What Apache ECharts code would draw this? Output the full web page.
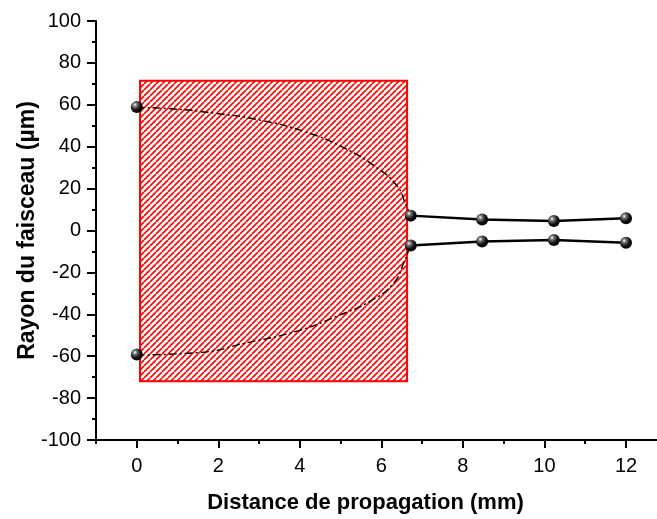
<!DOCTYPE html>
<html><head><meta charset="utf-8">
<script src="https://cdn.jsdelivr.net/npm/echarts@6/dist/echarts.min.js"></script>
<style>html,body{margin:0;padding:0;background:#fff}#c{width:657px;height:519px}</style>
</head><body><div id="c"></div>
<script>
// Measured data points
var upperPts = [[0, 59.0], [6.72, 7.1], [8.47, 5.2], [10.23, 4.5], [12.0, 5.8]];
var lowerPts = [[0, -59.2], [6.72, -7.2], [8.47, -5.2], [10.23, -4.5], [12.0, -5.9]];
// dash-dot guide curves inside the hatched region
var upperCurve = [[0, 58.7], [0.85, 58.1], [1.9, 56.0], [2.97, 52.9], [4.1, 47.3], [5.09, 39.4], [5.9, 29.8], [6.39, 21.1], [6.6, 12.4], [6.72, 7.1]];
var lowerCurve = [[0, -59.4], [1.5, -58.3], [2.72, -53.5], [3.95, -47.9], [4.92, -40.8], [5.74, -33.6], [6.31, -24.9], [6.55, -15.4], [6.68, -9.0], [6.72, -7.2]];
// hatched region: [xStart, yTop], [xEnd, yBottom]
var regionStart = [0.08, 71.5];
var regionEnd = [6.63, -72.0];
var xTickLabels = [0, 2, 4, 6, 8, 10, 12];
var xMinorTicks = [-1, 1, 3, 5, 7, 9, 11];

function hatch() {
  var T = 6;
  var cv = document.createElement('canvas');
  cv.width = T; cv.height = T;
  var g = cv.getContext('2d');
  g.fillStyle = '#fff'; g.fillRect(0, 0, T, T);
  g.strokeStyle = '#ff0000'; g.lineWidth = 1.6;
  [-T, 0, T].forEach(function (k) {
    g.beginPath(); g.moveTo(k, T); g.lineTo(k + T, 0); g.stroke();
  });
  return cv;
}
var ball = {
  type: 'radial', x: 0.35, y: 0.32, r: 0.75,
  colorStops: [{offset: 0, color: '#ffffff'}, {offset: 0.22, color: '#777'}, {offset: 0.6, color: '#111'}, {offset: 1, color: '#000'}]
};
var chart = echarts.init(document.getElementById('c'), null, {renderer: 'canvas'});
var FONT = '"Liberation Sans", Arial, sans-serif';
var XMIN = -1, XMAX = 12.76;
chart.setOption({
  animation: false,
  grid: {left: 96, right: 0, top: 21, bottom: 78},
  xAxis: [{
    type: 'value', min: XMIN, max: XMAX,
    name: 'Distance de propagation (mm)', nameLocation: 'middle', nameGap: 52, nameMoveOverlap: false,
    nameTextStyle: {fontFamily: FONT, fontWeight: 'bold', fontSize: 22, color: '#000', padding: [0, 22, 0, 0]},
    axisLine: {onZero: false, lineStyle: {color: '#000', width: 2}},
    axisTick: {show: true, length: 8, lineStyle: {width: 2, color: '#000'}, customValues: xTickLabels},
    axisLabel: {customValues: xTickLabels, fontFamily: FONT, fontSize: 20, color: '#000', margin: 16},
    splitLine: {show: false}
  }, {
    type: 'value', min: XMIN, max: XMAX, position: 'bottom',
    axisLine: {show: false, onZero: false},
    axisTick: {show: true, length: 4, lineStyle: {width: 2, color: '#000'}, customValues: xMinorTicks},
    axisLabel: {show: false, customValues: xMinorTicks},
    splitLine: {show: false}
  }],
  yAxis: {
    type: 'value', min: -100, max: 100, interval: 20,
    name: 'Rayon du faisceau (µm)', nameLocation: 'middle', nameGap: 57, nameMoveOverlap: false,
    nameTextStyle: {fontFamily: FONT, fontWeight: 'bold', fontSize: 23, color: '#000'},
    axisLine: {show: true, onZero: false, lineStyle: {color: '#000', width: 2}},
    axisTick: {show: true, length: 9, lineStyle: {width: 2, color: '#000'}},
    minorTick: {show: true, splitNumber: 2, length: 4, lineStyle: {width: 2, color: '#000'}},
    axisLabel: {fontFamily: FONT, fontSize: 20, color: '#000', margin: 15},
    splitLine: {show: false}
  },
  series: [{
    type: 'line', data: upperCurve, smooth: true, symbol: 'none', z: 3,
    lineStyle: {color: '#000', width: 1.4, type: [8, 3, 2, 3]},
    markArea: {
      silent: true,
      itemStyle: {color: {image: hatch(), repeat: 'repeat'}, borderColor: '#ff0000', borderWidth: 2, opacity: 1},
      data: [[{coord: regionStart}, {coord: regionEnd}]]
    }
  }, {
    type: 'line', data: lowerCurve, smooth: true, symbol: 'none', z: 3,
    lineStyle: {color: '#000', width: 1.4, type: [8, 3, 2, 3]}
  }, {
    type: 'line', data: upperPts.slice(1), symbol: 'none', z: 4,
    lineStyle: {color: '#000', width: 2.5}
  }, {
    type: 'line', data: lowerPts.slice(1), symbol: 'none', z: 4,
    lineStyle: {color: '#000', width: 2.5}
  }, {
    type: 'scatter', data: upperPts.concat(lowerPts), symbol: 'circle', symbolSize: 12, z: 5,
    itemStyle: {color: ball, opacity: 1}
  }]
});
</script></body></html>
